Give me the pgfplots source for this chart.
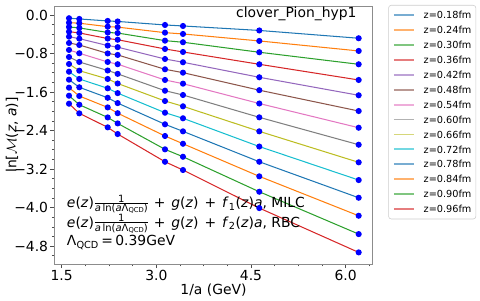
\documentclass[border=0pt]{standalone}
\usepackage{fontspec}
\setmainfont{DejaVu Sans}
\usepackage{pgfplots}
\usepackage{pgfplotstable}
\pgfplotsset{compat=1.18}
\definecolor{c0}{HTML}{1F77B4}
\definecolor{c1}{HTML}{FF7F0E}
\definecolor{c2}{HTML}{2CA02C}
\definecolor{c3}{HTML}{D62728}
\definecolor{c4}{HTML}{9467BD}
\definecolor{c5}{HTML}{8C564B}
\definecolor{c6}{HTML}{E377C2}
\definecolor{c7}{HTML}{7F7F7F}
\definecolor{c8}{HTML}{BCBD22}
\definecolor{c9}{HTML}{17BECF}
\pgfplotstableread{
x z0 z1 z2 z3 z4 z5 z6 z7 z8 z9 z10 z11 z12 z13
1.616 -0.064 -0.156 -0.245 -0.343 -0.447 -0.578 -0.723 -0.869 -1.015 -1.175 -1.341 -1.507 -1.674 -1.840
1.779 -0.079 -0.168 -0.266 -0.370 -0.489 -0.620 -0.792 -0.973 -1.154 -1.326 -1.499 -1.680 -1.861 -2.040
2.229 -0.121 -0.239 -0.360 -0.486 -0.632 -0.796 -0.973 -1.150 -1.326 -1.520 -1.717 -1.917 -2.125 -2.331
2.387 -0.131 -0.249 -0.372 -0.511 -0.665 -0.827 -1.019 -1.220 -1.420 -1.620 -1.827 -2.037 -2.249 -2.470
3.137 -0.204 -0.364 -0.530 -0.703 -0.911 -1.125 -1.347 -1.570 -1.784 -2.027 -2.268 -2.511 -2.788 -3.046
3.422 -0.225 -0.391 -0.563 -0.765 -0.979 -1.195 -1.424 -1.659 -1.894 -2.143 -2.414 -2.672 -2.942 -3.218
4.631 -0.318 -0.536 -0.771 -1.021 -1.291 -1.559 -1.836 -2.123 -2.414 -2.730 -3.046 -3.349 -3.669 -4.008
6.206 -0.480 -0.744 -1.021 -1.347 -1.665 -1.992 -2.339 -2.692 -3.058 -3.426 -3.794 -4.168 -4.549 -4.929
}\data
\newcommand{\ser}[3]{\addplot[#1, line width=0.75pt, mark=*, mark size=1.8pt, mark options={draw=blue, fill=blue, solid}] table[x=x, y=#2] {\data}; \addlegendentry{#3}}
\newcommand{\fs}{\fontsize{7.2}{7.2}\selectfont}
\newcommand{\fss}{\fontsize{4.9}{4.9}\selectfont}
\newcommand{\fr}{\hspace{0.6pt}\ensuremath{\vcenter{\offinterlineskip\halign{\hfil##\hfil\cr\fs 1\cr\noalign{\kern0.5pt\hrule height 0.4pt\kern0.5pt}\fs\textit{a}\hspace{1.2pt}ln(\textit{a}Λ\raisebox{-0.8pt}{\fss QCD})\cr}}}}
\newcommand{\pl}{\hspace{4.3pt}+\hspace{4.3pt}}
\begin{document}
\begin{tikzpicture}
\begin{axis}[
  scale only axis, width=229.25pt, height=185.76pt,
  xmin=1.383, xmax=6.428, ymin=-5.17, ymax=0.19,
  xtick={1.5,3,4.5,6}, xticklabels={1.5,3.0,4.5,6.0},
  ytick={-4.8,-4.0,-3.2,-2.4,-1.6,-0.8,0}, yticklabels={−4.8,−4.0,−3.2,−2.4,−1.6,−0.8,0.0},
  minor xtick={1.875,2.25,2.625,3.375,3.75,4.125,4.875,5.25,5.625,6.375},
  minor ytick={-5.0,-4.6,-4.4,-4.2,-3.8,-3.6,-3.4,-3.0,-2.8,-2.6,-2.2,-2.0,-1.8,-1.4,-1.2,-1.0,-0.6,-0.4,-0.2},
  tick align=outside, tick pos=left,
  major tick length=2.9pt, minor tick length=1.7pt,
  every tick/.style={black!70, line width=0.6pt},
  axis line style={black!45, line width=0.7pt},
  tick label style={font=\fontsize{10}{12}\selectfont, black, inner sep=1.4pt},
  xlabel={1/a (GeV)}, ylabel={ln[$\mathcal{M}$(\textit{z}, \textit{a})]},
  xlabel style={at={(axis description cs:0.5,-0.101)}, anchor=center, font=\fontsize{10}{12}\selectfont},
  ylabel style={at={(axis description cs:-0.133,0.5)}, anchor=center, font=\fontsize{10}{12}\selectfont},
  legend cell align=left,
  legend image code/.code={\draw[#1, line width=1.3pt, opacity=0.6] (0pt,0pt) -- (14.8pt,0pt);},
  legend style={at={(1,1)}, anchor=north west, xshift=11.2pt, yshift=0.72pt,
    font=\fontsize{7}{8}\selectfont, draw=black!20, rounded corners=2pt,
    inner xsep=3.2pt, inner ysep=4.6pt, row sep=5.53pt, column sep=6pt,
    nodes={inner sep=0pt, text height=5.2pt, text depth=0pt, anchor=west}},
]
\ser{c0}{z0}{z=0.18fm}
\ser{c1}{z1}{z=0.24fm}
\ser{c2}{z2}{z=0.30fm}
\ser{c3}{z3}{z=0.36fm}
\ser{c4}{z4}{z=0.42fm}
\ser{c5}{z5}{z=0.48fm}
\ser{c6}{z6}{z=0.54fm}
\ser{c7}{z7}{z=0.60fm}
\ser{c8}{z8}{z=0.66fm}
\ser{c9}{z9}{z=0.72fm}
\ser{c0}{z10}{z=0.78fm}
\ser{c1}{z11}{z=0.84fm}
\ser{c2}{z12}{z=0.90fm}
\ser{c3}{z13}{z=0.96fm}
\node[anchor=east, inner sep=0pt, font=\fontsize{10}{12}\selectfont] at (axis description cs:0.950,0.969) {clover\_Pion\_hyp1};
\node[anchor=base west, inner sep=0pt, font=\fontsize{10}{12}\selectfont] at (axis description cs:0.039,0.218) {\textit{e}(\textit{z})\fr\pl\textit{g}(\textit{z})\pl\textit{f}\textsubscript{1}(\textit{z})\textit{a}, MILC};
\node[anchor=base west, inner sep=0pt, font=\fontsize{10}{12}\selectfont] at (axis description cs:0.039,0.143) {\textit{e}(\textit{z})\fr\pl\textit{g}(\textit{z})\pl\textit{f}\textsubscript{2}(\textit{z})\textit{a}, RBC};
\node[anchor=base west, inner sep=0pt, font=\fontsize{10}{12}\selectfont] at (axis description cs:0.039,0.071) {Λ\textsubscript{QCD}\,=\,0.39GeV};
\end{axis}
\pgfresetboundingbox
\path[use as bounding box] ([xshift=-39.10pt,yshift=-26.64pt]current axis.south west) rectangle ([xshift=77.26pt,yshift=4.32pt]current axis.north east);
\end{tikzpicture}
\end{document}
